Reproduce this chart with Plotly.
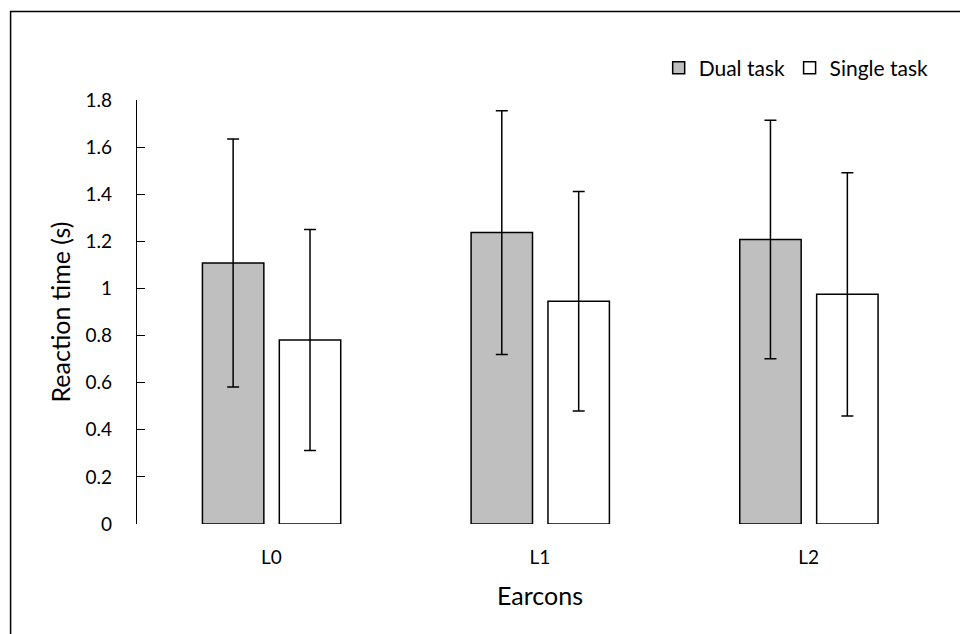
import plotly.graph_objects as go

categories = ["L0", "L1", "L2"]
dual_task = [1.108, 1.237, 1.208]
dual_err = [0.526, 0.517, 0.506]
single_task = [0.781, 0.946, 0.975]
single_err = [0.469, 0.466, 0.516]
y_ticks = [0, 0.2, 0.4, 0.6, 0.8, 1.0, 1.2, 1.4, 1.6, 1.8]

FONT = "Lato"
bar_w = 0.2286

fig = go.Figure()
fig.add_trace(go.Bar(
    name="Dual task", x=categories, y=dual_task,
    width=bar_w, offset=-0.2565, legend="legend",
    marker=dict(color="#BFBFBF", line=dict(color="black", width=1.5)),
    error_y=dict(type="data", array=dual_err, visible=True, color="black", thickness=1.5, width=6),
))
fig.add_trace(go.Bar(
    name="Single task", x=categories, y=single_task,
    width=bar_w, offset=0.0297, legend="legend2",
    marker=dict(color="white", line=dict(color="black", width=1.5)),
    error_y=dict(type="data", array=single_err, visible=True, color="black", thickness=1.5, width=6),
))

L, R, T, B = 137, 16.5, 100, 110
pw = 960 - L - R
ph = 634 - T - B

def px_x(p):
    return (p - L) / pw

def px_y(p):
    return (634 - B - p) / ph

legend_common = dict(orientation="h", xanchor="left", yanchor="middle",
                     font=dict(family=FONT, size=21, color="black"), itemwidth=30,
                     bgcolor="rgba(0,0,0,0)")

fig.update_layout(
    width=960, height=634,
    margin=dict(l=L, r=R, t=T, b=B, autoexpand=False),
    paper_bgcolor="white", plot_bgcolor="white",
    font=dict(family=FONT, size=19, color="black"),
    showlegend=True,
    legend=dict(x=px_x(659), y=px_y(68), **legend_common),
    legend2=dict(x=px_x(790), y=px_y(68), **legend_common),
    xaxis=dict(
        type="category", categoryorder="array", categoryarray=categories,
        range=[-0.5, 2.5],
        showline=False, showgrid=False, zeroline=False, ticks="",
        ticklabelstandoff=20,
        tickfont=dict(family=FONT, size=19),
        title=dict(text="Earcons", font=dict(family=FONT, size=25), standoff=20),
    ),
    yaxis=dict(
        range=[0, 1.8], tickvals=y_ticks,
        showline=True, linecolor="black", linewidth=1.2,
        ticks="inside", ticklen=8, tickcolor="black", tickwidth=1.2,
        showgrid=False, zeroline=False,
        ticklabelstandoff=20,
        tickfont=dict(family=FONT, size=19),
        title=dict(text="Reaction time (s)", font=dict(family=FONT, size=25), standoff=7),
    ),
    shapes=[dict(type="rect", xref="paper", yref="paper",
                 x0=px_x(10.5), x1=px_x(1000), y0=px_y(700), y1=px_y(11.5),
                 line=dict(color="black", width=1.5), fillcolor="rgba(0,0,0,0)", layer="below")],
)

fig.write_html("out.html", config={"displayModeBar": False},
               post_script="document.body.style.margin='0';document.body.style.overflow='hidden';")
